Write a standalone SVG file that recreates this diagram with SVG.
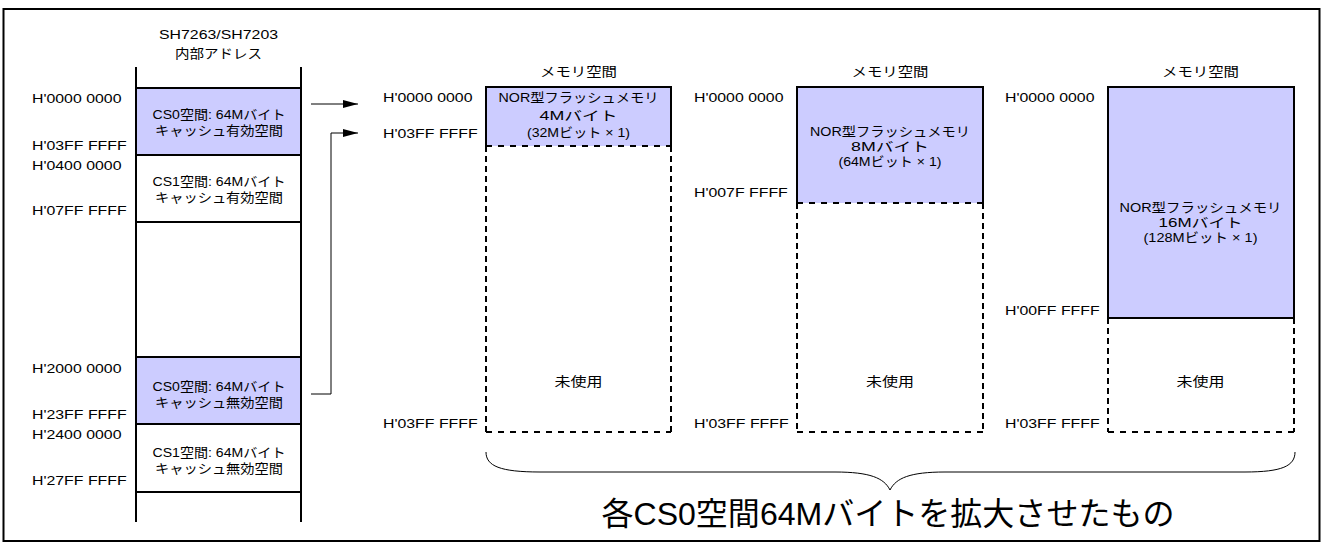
<svg xmlns="http://www.w3.org/2000/svg" width="1324" height="547" viewBox="0 0 1324 547">
<style>
.t{font-family:"Liberation Sans","Noto Sans CJK JP",sans-serif;font-size:13px;fill:#000}
.c{text-anchor:middle}
.fill{fill:#CCCCFF;stroke:none}
.solid{fill:none;stroke:#000;stroke-width:2}
.dash{fill:none;stroke:#000;stroke-width:2;stroke-dasharray:6 4}
.dashb{fill:none;stroke:#000;stroke-width:2;stroke-dasharray:6 6}
.conn{fill:none;stroke:#000;stroke-width:1}
</style>
<defs>
<marker id="arr" markerUnits="userSpaceOnUse" markerWidth="16" markerHeight="10" refX="15" refY="5" orient="auto">
<path d="M0,1 L15,5 L0,9 Z" fill="#000"/>
</marker>
</defs>
<rect x="0" y="0" width="1324" height="547" fill="#fff"/>
<rect x="3.5" y="9" width="1316" height="532" fill="none" stroke="#000" stroke-width="2"/>

<g id="internal-address">
<text class="t c" transform="translate(218.5,39) scale(1.22 1)">SH7263/SH7203</text>
<text class="t c" x="218.5" y="58" textLength="87" lengthAdjust="spacingAndGlyphs">内部アドレス</text>
<rect class="fill" x="136" y="88" width="165" height="67"/>
<rect class="fill" x="136" y="357" width="165" height="67"/>
<line class="solid" x1="136" y1="67" x2="136" y2="522"/>
<line class="solid" x1="301" y1="67" x2="301" y2="522"/>
<line class="solid" x1="136" y1="88" x2="301" y2="88"/>
<line class="solid" x1="136" y1="155" x2="301" y2="155"/>
<line class="solid" x1="136" y1="222" x2="301" y2="222"/>
<line class="solid" x1="136" y1="357" x2="301" y2="357"/>
<line class="solid" x1="136" y1="424" x2="301" y2="424"/>
<line class="solid" x1="136" y1="492" x2="301" y2="492"/>
</g>
<g id="cs0-cached">
<text class="t c" x="219" y="119" textLength="133" lengthAdjust="spacingAndGlyphs">CS0空間: 64Mバイト</text>
<text class="t c" x="219" y="135" textLength="128" lengthAdjust="spacingAndGlyphs">キャッシュ有効空間</text>
</g>
<g id="cs1-cached">
<text class="t c" x="219" y="186" textLength="133" lengthAdjust="spacingAndGlyphs">CS1空間: 64Mバイト</text>
<text class="t c" x="219" y="202" textLength="128" lengthAdjust="spacingAndGlyphs">キャッシュ有効空間</text>
</g>
<g id="cs0-uncached">
<text class="t c" x="219" y="391" textLength="133" lengthAdjust="spacingAndGlyphs">CS0空間: 64Mバイト</text>
<text class="t c" x="219" y="407" textLength="128" lengthAdjust="spacingAndGlyphs">キャッシュ無効空間</text>
</g>
<g id="cs1-uncached">
<text class="t c" x="219" y="457" textLength="133" lengthAdjust="spacingAndGlyphs">CS1空間: 64Mバイト</text>
<text class="t c" x="219" y="473" textLength="128" lengthAdjust="spacingAndGlyphs">キャッシュ無効空間</text>
</g>
<g id="left-addresses">
<text class="t" transform="translate(32,103) scale(1.22 1)">H'0000 0000</text>
<text class="t" transform="translate(32,150) scale(1.22 1)">H'03FF FFFF</text>
<text class="t" transform="translate(32,170) scale(1.22 1)">H'0400 0000</text>
<text class="t" transform="translate(32,215) scale(1.22 1)">H'07FF FFFF</text>
<text class="t" transform="translate(32,373) scale(1.22 1)">H'2000 0000</text>
<text class="t" transform="translate(32,419) scale(1.22 1)">H'23FF FFFF</text>
<text class="t" transform="translate(32,439) scale(1.22 1)">H'2400 0000</text>
<text class="t" transform="translate(32,485) scale(1.22 1)">H'27FF FFFF</text>
</g>

<g id="connectors">
<line class="conn" x1="311" y1="104" x2="358" y2="104" marker-end="url(#arr)"/>
<polyline class="conn" points="311,394 331,394 331,133 358,133" marker-end="url(#arr)"/>
<path class="conn" d="M486,452 C486,466 500,472 540,472 L835,472 C870,472 884,478 890,490 C896,478 910,472 945,472 L1245,472 C1282,472 1295,466 1295,452"/>
</g>

<g id="panel-4m">
<text class="t c" x="578.5" y="76" textLength="77" lengthAdjust="spacingAndGlyphs">メモリ空間</text>
<rect class="fill" x="486" y="87" width="185" height="59"/>
<polyline class="solid" points="486,146 486,87 671,87 671,146"/>
<polyline class="dash" points="486,146 486,432"/>
<polyline class="dash" points="671,146 671,432"/>
<line class="dashb" x1="486" y1="146" x2="671" y2="146"/>
<line class="dashb" x1="486" y1="432" x2="671" y2="432"/>
<text class="t c" x="578.5" y="102" textLength="160" lengthAdjust="spacingAndGlyphs">NOR型フラッシュメモリ</text>
<text class="t c" x="578.5" y="120" textLength="78" lengthAdjust="spacingAndGlyphs">4Mバイト</text>
<text class="t c" x="578.5" y="137" textLength="103" lengthAdjust="spacingAndGlyphs">(32Mビット × 1)</text>
<text class="t c" x="578.5" y="386" textLength="48" lengthAdjust="spacingAndGlyphs">未使用</text>
<text class="t" transform="translate(383,102) scale(1.22 1)">H'0000 0000</text>
<text class="t" transform="translate(383,138) scale(1.22 1)">H'03FF FFFF</text>
<text class="t" transform="translate(383,428) scale(1.22 1)">H'03FF FFFF</text>
</g>

<g id="panel-8m">
<text class="t c" x="890" y="76" textLength="77" lengthAdjust="spacingAndGlyphs">メモリ空間</text>
<rect class="fill" x="797" y="87" width="186" height="116"/>
<polyline class="solid" points="797,203 797,87 983,87 983,203"/>
<polyline class="dash" points="797,203 797,432"/>
<polyline class="dash" points="983,203 983,432"/>
<line class="dashb" x1="797" y1="203" x2="983" y2="203"/>
<line class="dashb" x1="797" y1="432" x2="983" y2="432"/>
<text class="t c" x="890" y="136" textLength="160" lengthAdjust="spacingAndGlyphs">NOR型フラッシュメモリ</text>
<text class="t c" x="890" y="151" textLength="78" lengthAdjust="spacingAndGlyphs">8Mバイト</text>
<text class="t c" x="890" y="166" textLength="103" lengthAdjust="spacingAndGlyphs">(64Mビット × 1)</text>
<text class="t c" x="890" y="386" textLength="48" lengthAdjust="spacingAndGlyphs">未使用</text>
<text class="t" transform="translate(694,102) scale(1.22 1)">H'0000 0000</text>
<text class="t" transform="translate(694,197) scale(1.22 1)">H'007F FFFF</text>
<text class="t" transform="translate(694,428) scale(1.22 1)">H'03FF FFFF</text>
</g>

<g id="panel-16m">
<text class="t c" x="1200.5" y="76" textLength="77" lengthAdjust="spacingAndGlyphs">メモリ空間</text>
<rect class="fill" x="1108" y="87" width="186" height="231"/>
<polyline class="solid" points="1108,318 1108,87 1294,87 1294,318"/>
<line class="solid" x1="1108" y1="318" x2="1294" y2="318"/>
<polyline class="dash" points="1108,318 1108,432"/>
<polyline class="dash" points="1294,318 1294,432"/>
<line class="dashb" x1="1108" y1="432" x2="1294" y2="432"/>
<text class="t c" x="1200.5" y="212" textLength="162" lengthAdjust="spacingAndGlyphs">NOR型フラッシュメモリ</text>
<text class="t c" x="1200.5" y="227" textLength="84" lengthAdjust="spacingAndGlyphs">16Mバイト</text>
<text class="t c" x="1200.5" y="242" textLength="114" lengthAdjust="spacingAndGlyphs">(128Mビット × 1)</text>
<text class="t c" x="1200.5" y="386" textLength="48" lengthAdjust="spacingAndGlyphs">未使用</text>
<text class="t" transform="translate(1005,102) scale(1.22 1)">H'0000 0000</text>
<text class="t" transform="translate(1005,315) scale(1.22 1)">H'00FF FFFF</text>
<text class="t" transform="translate(1005,428) scale(1.22 1)">H'03FF FFFF</text>
</g>

<g id="caption">
<text class="t c" x="888" y="525" style="font-size:32px" textLength="573" lengthAdjust="spacingAndGlyphs">各CS0空間64Mバイトを拡大させたもの</text>
</g>
</svg>
